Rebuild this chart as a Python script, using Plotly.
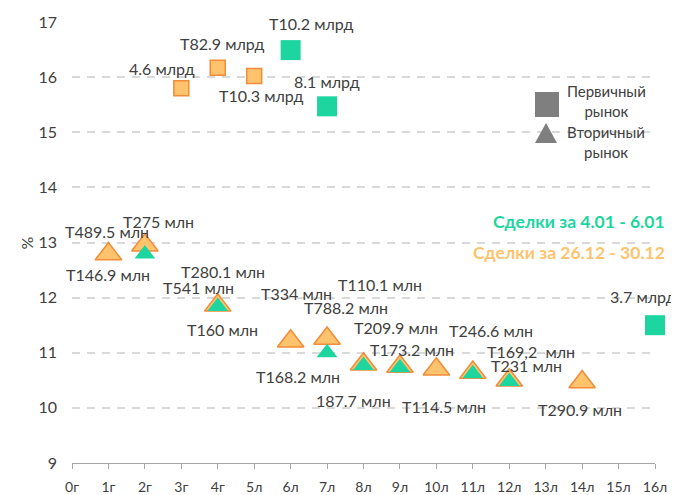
import plotly.graph_objects as go

# ---------------- data ----------------
x_tick_vals = list(range(0, 17))
x_tick_text = ["0г", "1г", "2г", "3г", "4г", "5л", "6л", "7л", "8л", "9л",
               "10л", "11л", "12л", "13л", "14л", "15л", "16л"]

# primary market, deals 26.12 - 30.12 (orange squares)
old_sq_x = [3, 4, 5]
old_sq_y = [15.80, 16.17, 16.02]
# primary market, deals 4.01 - 6.01 (green squares)
new_sq_x = [6, 7, 16]
new_sq_y = [16.49, 15.47, 11.50]
# secondary market, deals 26.12 - 30.12 (orange triangles)
old_tr_x = [1, 2, 4, 6, 7, 8, 9, 10, 11, 12, 14]
old_tr_y = [12.79, 12.95, 11.86, 11.21, 11.26, 10.79, 10.75, 10.70, 10.64, 10.50, 10.47]
# secondary market, deals 4.01 - 6.01 (green triangles)
new_tr_x = [2, 4, 7, 8, 9, 11, 12]
new_tr_y = [12.79, 11.84, 11.00, 10.77, 10.73, 10.62, 10.48]

label_text = ["T10.2 млрд", "T82.9 млрд", "4.6 млрд", "T10.3 млрд", "8.1 млрд", "3.7 млрд",
              "T489.5 млн", "T275 млн", "T146.9 млн", "T280.1 млн", "T541 млн", "T160 млн",
              "T334 млн", "T788.2 млн", "T110.1 млн", "T168.2 млн", "T209.9 млн", "T173.2 млн",
              "T246.6 млн", "T169,2\u00a0 млн", "T231 млн", "187.7 млн", "T114.5 млн", "T290.9 млн"]
# which point each label belongs to: (series, x)
label_anchor = [("new_sq", 6), ("old_sq", 4), ("old_sq", 3), ("old_sq", 5), ("new_sq", 7), ("new_sq", 16),
                ("old_tr", 1), ("old_tr", 2), ("new_tr", 2), ("old_tr", 4), ("new_tr", 4), ("old_tr", 4),
                ("old_tr", 6), ("old_tr", 7), ("new_tr", 7), ("old_tr", 6), ("old_tr", 8), ("old_tr", 9),
                ("old_tr", 11), ("old_tr", 12), ("new_tr", 12), ("old_tr", 8), ("old_tr", 10), ("old_tr", 14)]

# ---------------- styling ----------------
label_shift = [(20, 27), (4, 24), (-19, 20), (7, -19), (0, 25), (-12, 29),
               (-1, 23), (14, 24), (-37, -20), (5, 34), (-19, 19), (5, -24),
               (6, 48), (19, 31), (53, 68), (7, -35), (32, 37), (12, 17),
               (18, 42), (22, 29), (17, 16), (-10, -36), (8, -37), (-2, -28)]

GREEN = "#1DD59F"
ORANGE_FILL = "#FFC36E"
ORANGE_LINE = "#F28C38"
GREY = "#7F7F7F"
TEXT = "#404040"
FONT = "Lato"

OFF = 8  # page body margin
W, H = 679 - OFF, 495 - OFF
ML, MR, MT, MB = 72 - OFF, 24, 22 - OFF, 32
PW, PH = W - ML - MR, H - MT - MB


def px2paper(px, py):
    # screen pixel -> paper coordinate
    return (px - OFF - ML) / PW, (H - MB - (py - OFF)) / PH


series = {
    "old_sq": (old_sq_x, old_sq_y),
    "new_sq": (new_sq_x, new_sq_y),
    "old_tr": (old_tr_x, old_tr_y),
    "new_tr": (new_tr_x, new_tr_y),
}

fig = go.Figure()
fig.add_trace(go.Scatter(x=old_sq_x, y=old_sq_y, mode="markers", cliponaxis=False,
                         marker=dict(symbol="square", size=15, color=ORANGE_FILL,
                                     line=dict(color=ORANGE_LINE, width=1.5))))
fig.add_trace(go.Scatter(x=new_sq_x, y=new_sq_y, mode="markers", cliponaxis=False,
                         marker=dict(symbol="square", size=20, color=GREEN, line=dict(width=0))))
fig.add_trace(go.Scatter(x=old_tr_x, y=old_tr_y, mode="markers", cliponaxis=False,
                         marker=dict(symbol="triangle-up", size=23, color=ORANGE_FILL,
                                     line=dict(color=ORANGE_LINE, width=1.5))))
fig.add_trace(go.Scatter(x=new_tr_x, y=new_tr_y, mode="markers", cliponaxis=False,
                         marker=dict(symbol="triangle-up", size=18, color=GREEN, line=dict(width=0))))

annotations = []
for txt, (s, xv), (dx, dy) in zip(label_text, label_anchor, label_shift):
    xs, ys = series[s]
    yv = ys[xs.index(xv)]
    annotations.append(dict(x=xv, y=yv, xref="x", yref="y", text=txt, showarrow=False,
                            xshift=dx, yshift=dy, xanchor="center", yanchor="middle",
                            font=dict(family=FONT, size=16, color=TEXT)))

# axis title
px_, py_ = px2paper(15, 243)
annotations.append(dict(x=px_, y=py_, xref="paper", yref="paper", text="%", showarrow=False,
                        textangle=-90, font=dict(family=FONT, size=16, color=TEXT)))
# legend texts
for t, (cx, cy) in [("Первичный<br>рынок", (606, 101)), ("Вторичный<br>рынок", (606, 142))]:
    ax, ay = px2paper(cx, cy)
    annotations.append(dict(x=ax, y=ay, xref="paper", yref="paper", text=t, showarrow=False,
                            align="center", xanchor="center", yanchor="middle",
                            font=dict(family=FONT, size=15, color=TEXT)))
for t, col, cy in [("Сделки за 4.01 - 6.01", GREEN, 221), ("Сделки за 26.12 - 30.12", ORANGE_FILL, 252)]:
    ax, ay = px2paper(667, cy)
    annotations.append(dict(x=ax, y=ay, xref="paper", yref="paper", text="<b>" + t + "</b>",
                            showarrow=False, xanchor="right", yanchor="middle",
                            font=dict(family=FONT, size=17.5, color=col)))

# legend symbols
sx0, sy0 = px2paper(535, 117)
sx1, sy1 = px2paper(559, 92)
ta_x, ta_y = px2paper(546, 123)
tl_x, tb_y = px2paper(535, 143)
tr_x, _ = px2paper(557, 143)
shapes = [
    dict(type="rect", xref="paper", yref="paper", x0=sx0, y0=sy0, x1=sx1, y1=sy1,
         fillcolor=GREY, line=dict(width=0), layer="above"),
    dict(type="path", xref="paper", yref="paper",
         path=f"M {tl_x} {tb_y} L {tr_x} {tb_y} L {ta_x} {ta_y} Z",
         fillcolor=GREY, line=dict(width=0), layer="above"),
]

fig.update_layout(
    width=W, height=H,
    margin=dict(l=ML, r=MR, t=MT, b=MB, autoexpand=False),
    paper_bgcolor="white", plot_bgcolor="white",
    showlegend=False,
    annotations=annotations,
    shapes=shapes,
    font=dict(family=FONT, color=TEXT),
    xaxis=dict(range=[0, 16], tickmode="array", tickvals=x_tick_vals, ticktext=x_tick_text,
               automargin=False,
               showgrid=False, zeroline=False, showline=True, linecolor="#A6A6A6", linewidth=1,
               ticks="outside", ticklen=5, tickcolor="#A6A6A6",
               tickfont=dict(family=FONT, size=14, color=TEXT), ticklabelstandoff=6),
    yaxis=dict(range=[9, 17], tickmode="linear", tick0=9, dtick=1, automargin=False,
               showgrid=True, gridcolor="#D9D9D9", gridwidth=1.5, griddash="8px,7px",
               zeroline=False, showline=False, ticks="",
               tickfont=dict(family=FONT, size=16, color=TEXT), ticklabelstandoff=14),
)

fig.write_html("out.html")
